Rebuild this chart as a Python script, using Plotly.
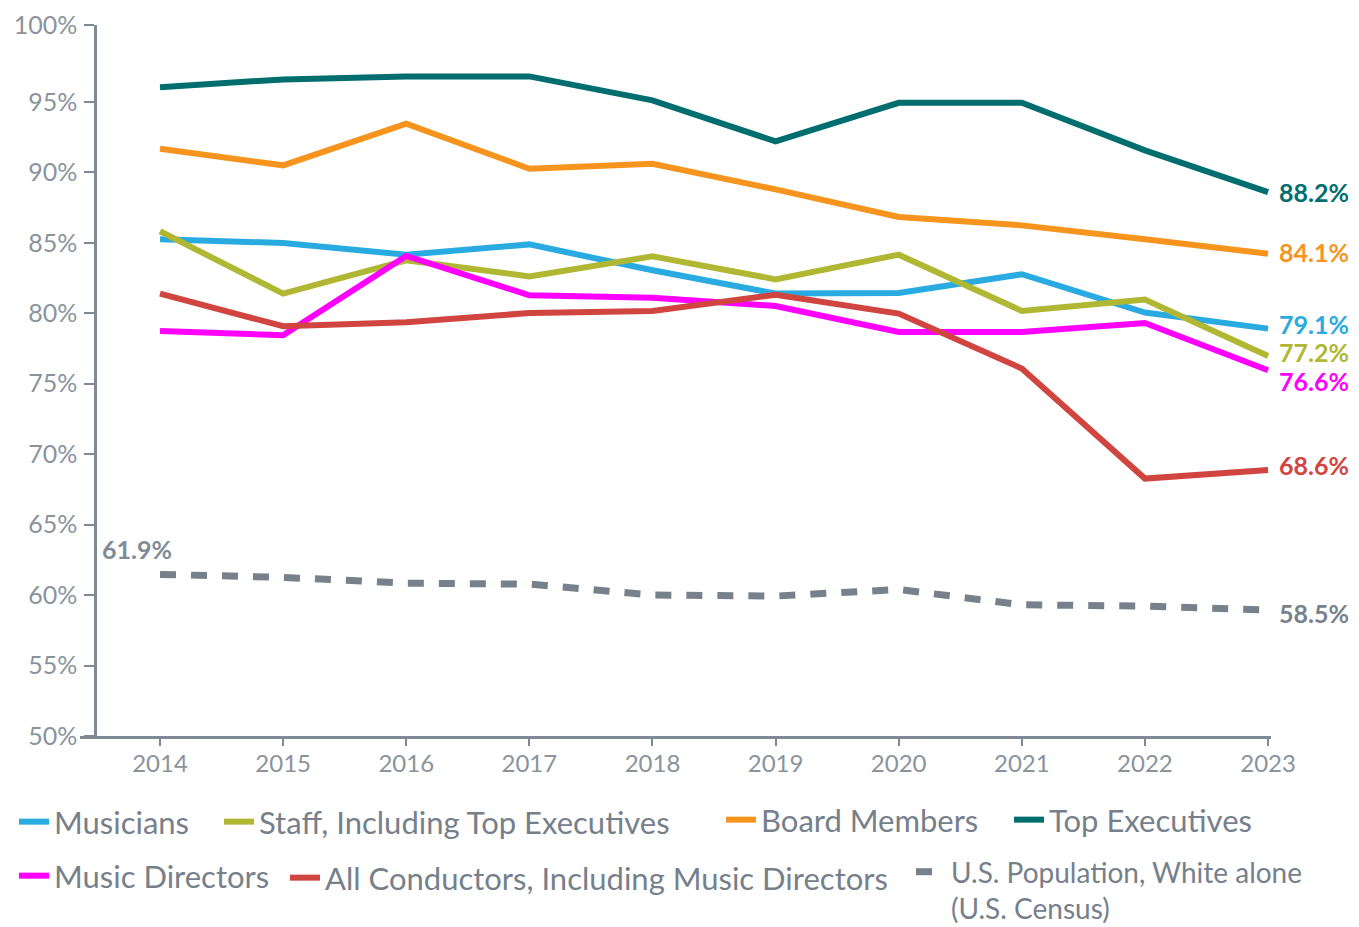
import plotly.graph_objects as go

years = [2014, 2015, 2016, 2017, 2018, 2019, 2020, 2021, 2022, 2023]

musicians = [85.25, 84.99, 84.16, 84.89, 83.05, 81.40, 81.44, 82.77, 80.05, 78.91]
staff = [85.82, 81.40, 83.76, 82.62, 84.04, 82.41, 84.16, 80.17, 80.97, 76.97]
board = [91.68, 90.50, 93.45, 90.26, 90.61, 88.79, 86.83, 86.24, 85.25, 84.23]
top_exec = [96.05, 96.60, 96.81, 96.81, 95.11, 92.20, 94.94, 94.94, 91.56, 88.60]
music_dir = [78.75, 78.44, 84.07, 81.28, 81.11, 80.52, 78.68, 78.68, 79.31, 75.96]
conductors = [81.40, 79.08, 79.36, 80.02, 80.16, 81.32, 79.98, 76.08, 68.27, 68.87]
census = [61.47, 61.26, 60.85, 60.78, 60.00, 59.93, 60.40, 59.31, 59.22, 58.94]

series_names = [
    "Musicians",
    "Staff, Including Top Executives",
    "Board Members",
    "Top Executives",
    "Music Directors",
    "All Conductors, Including Music Directors",
    "U.S. Population, White alone<br>(U.S. Census)",
]
series_values = [musicians, staff, board, top_exec, music_dir, conductors, census]
end_labels = ["79.1%", "77.2%", "84.1%", "88.2%", "76.6%", "68.6%", "58.5%"]
start_label = "61.9%"

y_ticks = [50, 55, 60, 65, 70, 75, 80, 85, 90, 95, 100]
y_tick_text = ["50%", "55%", "60%", "65%", "70%", "75%", "80%", "85%", "90%", "95%", "100%"]

# ---- styling (not data) ----
colors = ["#29ABE2", "#AFB733", "#F7941D", "#006D6F", "#FF00FF", "#D0453F", "#77818C"]
label_yshift = [5, 4, 2, 0, -11, 5, -3]
# legend placement in figure pixels: (left x, center y, font size)
legend_px = [(6, 814, 31), (211, 814, 31), (713, 812, 31), (1001, 812, 31),
             (6, 868, 31), (277, 870, 31), (903, 882, 28)]

GRAY = "#808A95"
TXT = "#8A939C"
FONT = "Lato"

# the page body adds an 8px offset, so the figure is 8px smaller than the window
W, H = 1351, 919
L, R, T, B = 72, 88, 17, 191
pw, ph = W - L - R, H - T - B

fig = go.Figure()
for i, (name, vals, col) in enumerate(zip(series_names, series_values, colors)):
    is_census = i == 6
    legend_id = "legend" if i == 0 else f"legend{i+1}"
    fig.add_trace(go.Scatter(
        x=years, y=vals, mode="lines", name=name,
        line=dict(color=col, width=7 if is_census else 6,
                  dash="16px,15px" if is_census else "solid"),
        legend=legend_id, hoverinfo="skip",
    ))

# end labels
for i, (vals, col, txt) in enumerate(zip(series_values, colors, end_labels)):
    fig.add_annotation(
        x=years[-1], y=vals[-1], text=txt, showarrow=False,
        xanchor="left", yanchor="middle", xshift=10, yshift=label_yshift[i],
        font=dict(family=FONT, size=25, color=col, weight="bold"),
        borderpad=0,
    )
fig.add_annotation(
    x=years[0], y=census[0], text=start_label, showarrow=False,
    xanchor="right", yanchor="middle", xshift=13, yshift=25,
    font=dict(family=FONT, size=25, color=GRAY, weight="bold"),
    borderpad=0,
)

layout_legends = {}
for i, (px, py, fs) in enumerate(legend_px):
    key = "legend" if i == 0 else f"legend{i+1}"
    layout_legends[key] = dict(
        x=(px - L) / pw, y=(H - B - py) / ph,
        xanchor="left", yanchor="middle",
        bgcolor="rgba(0,0,0,0)", borderwidth=0,
        font=dict(family=FONT, size=fs, color="#76808B"),
        itemwidth=30, valign="top", tracegroupgap=0,
    )

fig.update_layout(
    width=W, height=H,
    margin=dict(l=L, r=R, t=T, b=B, pad=0, autoexpand=False),
    paper_bgcolor="white", plot_bgcolor="white",
    font=dict(family=FONT, color=TXT),
    showlegend=True,
    xaxis=dict(
        range=[2013.35, 2023.024], tickmode="array", tickvals=years,
        ticktext=[str(y) for y in years],
        showgrid=False, zeroline=False,
        showline=True, linecolor=GRAY, linewidth=2.5,
        ticks="outside", ticklen=7, tickwidth=2, tickcolor=GRAY,
        tickfont=dict(family=FONT, size=24, color=TXT),
        ticklabelstandoff=-3,
    ),
    yaxis=dict(
        range=[50, 100.46], tickmode="array",
        tickvals=y_ticks[:-1] + [100.46], ticktext=y_tick_text,
        showgrid=False, zeroline=False,
        showline=True, linecolor=GRAY, linewidth=2.5,
        ticks="outside", ticklen=10, tickwidth=2, tickcolor=GRAY,
        tickfont=dict(family=FONT, size=25, color=TXT),
        ticklabelstandoff=2,
        anchor="free", position=15 / pw,
    ),
    **layout_legends,
)

fig.write_html("out.html")
